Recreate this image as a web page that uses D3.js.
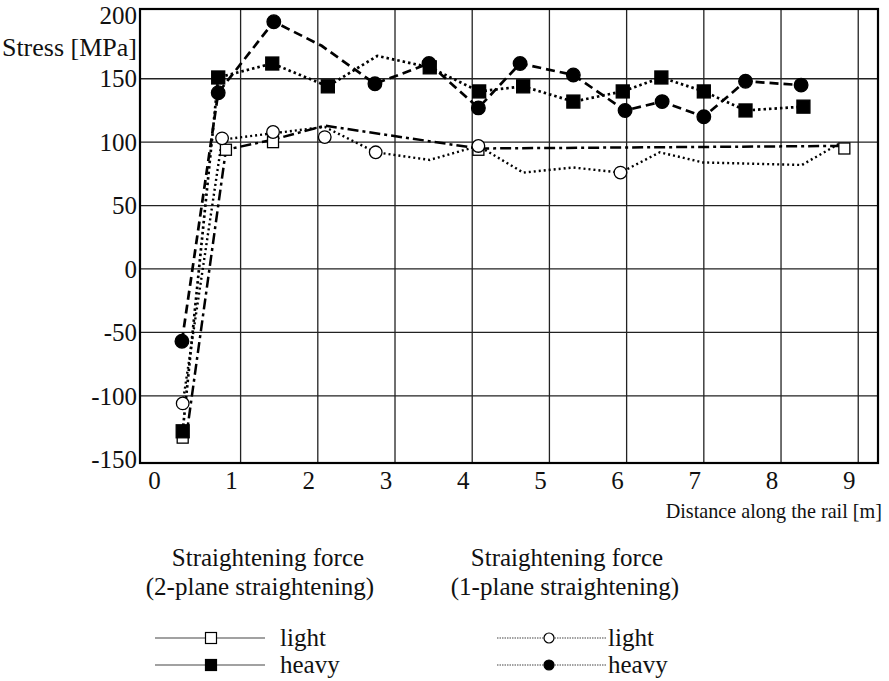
<!DOCTYPE html>
<html><head><meta charset="utf-8">
<script src="https://cdn.jsdelivr.net/npm/d3@7/dist/d3.min.js"></script>
<style>body{margin:0;background:#fff}svg{display:block}</style>
</head><body><svg id="c" width="889" height="681" font-family="'Liberation Serif', 'DejaVu Serif', serif"></svg>
<script>
// ---- data ----
const xTicks = [0,1,2,3,4,5,6,7,8,9];
const yTicks = [-150,-100,-50,0,50,100,150,200];
const yGrid = [-100,-50,0,50,100,150];
const xGrid = [1,2,3,4,5,6,7,8,9];

// 1-plane heavy (filled circles, dashed)
const heavy1LineX = [0.24,0.71,1.43,2.05,2.74,3.44,4.08,4.62,5.31,5.98,6.46,7.00,7.54,8.26];
const heavy1LineY = [-57,139,195,176,146,162,127,162,153,125,132,120,148,145];
const heavy1MarkX = [0.24,0.71,1.43,2.74,3.44,4.08,4.62,5.31,5.98,6.46,7.00,7.54,8.26];
const heavy1MarkY = [-57,139,195,146,162,127,162,153,125,132,120,148,145];

// 2-plane heavy (filled squares, dotted)
const heavy2LineX = [0.25,0.71,1.41,2.13,2.77,3.45,4.09,4.66,5.31,5.95,6.45,7.00,7.54,8.29];
const heavy2LineY = [-128,151,162,144,168,159,140,144,132,140,151,140,125,128];
const heavy2MarkX = [0.25,0.71,1.41,2.13,3.45,4.09,4.66,5.31,5.95,6.45,7.00,7.54,8.29];
const heavy2MarkY = [-128,151,162,144,159,140,144,132,140,151,140,125,128];

// 2-plane light (open squares, dash-dot)
const light2LineX = [0.29,0.81,1.42,2.09,4.08,8.76];
const light2LineY = [-135,94,102,113,95,97];
const light2MarkX = [0.25,0.81,1.42,4.08,8.82];
const light2MarkY = [-133,94,100,94,95];

// 1-plane light (open circles, dotted)
const light1LineX = [0.25,0.76,1.42,2.09,2.75,3.45,4.08,4.66,5.31,5.92,6.43,6.99,8.27,8.76];
const light1LineY = [-106,102,107,112,92,86,97,76,80,76,92,84,82,99];
const light1MarkX = [0.25,0.76,1.42,2.09,2.75,4.08,5.92];
const light1MarkY = [-106,103,108,104,92,97,76];

// ---- chart ----
const FONT = "'Liberation Serif', 'DejaVu Serif', serif";
const svg = d3.select("#c");
const x = d3.scaleLinear().domain([-0.303, 9.256]).range([140, 878]);
const y = d3.scaleLinear().domain([-153, 205]).range([463, 9]);

const g = svg.append("g");
g.selectAll(".gy").data(yGrid).join("line")
  .attr("x1", x(-0.303)).attr("x2", x(9.256))
  .attr("y1", d=>y(d)).attr("y2", d=>y(d))
  .attr("stroke","#222").attr("stroke-width",1.3);
g.selectAll(".gx").data(xGrid).join("line")
  .attr("y1", y(-153)).attr("y2", y(205))
  .attr("x1", d=>x(d)).attr("x2", d=>x(d))
  .attr("stroke","#222").attr("stroke-width",1.3);
g.append("rect").attr("x", x(-0.303)).attr("y", y(205))
  .attr("width", x(9.256)-x(-0.303)).attr("height", y(-153)-y(205))
  .attr("fill","none").attr("stroke","#000").attr("stroke-width",2.2);

function txt(sel){ return sel.attr("font-family", FONT).attr("fill", "#111"); }

txt(svg.selectAll(".ty").data(yTicks).join("text"))
  .attr("x", 137).attr("y", d=>y(d)).attr("dy","0.35em")
  .attr("text-anchor","end").attr("font-size", 25).text(d=>d);
txt(svg.selectAll(".tx").data(xTicks).join("text"))
  .attr("x", d=>x(d)-9).attr("y", 489)
  .attr("text-anchor","middle").attr("font-size", 25).text(d=>d);

txt(svg.append("text")).attr("x",137).attr("y",56).attr("text-anchor","end")
  .attr("font-size", 26).text("Stress [MPa]");
txt(svg.append("text")).attr("x",882).attr("y",518).attr("text-anchor","end")
  .attr("font-size", 20.2).text("Distance along the rail [m]");

const zip = (xs, ys) => xs.map((v,i)=>[v, ys[i]]);
const line = d3.line().x(d=>x(d[0])).y(d=>y(d[1]));

const series = [
  {lx:light2LineX, ly:light2LineY, mx:light2MarkX, my:light2MarkY, dash:"11,4,3,4", w:2.5, shape:"square", fill:"#fff"},
  {lx:light1LineX, ly:light1LineY, mx:light1MarkX, my:light1MarkY, dash:"2,3", w:2.4, shape:"circle", fill:"#fff"},
  {lx:heavy2LineX, ly:heavy2LineY, mx:heavy2MarkX, my:heavy2MarkY, dash:"2.5,3", w:2.7, shape:"square", fill:"#000"},
  {lx:heavy1LineX, ly:heavy1LineY, mx:heavy1MarkX, my:heavy1MarkY, dash:"9,5", w:2.7, shape:"circle", fill:"#000"}
];
series.forEach(s=>{
  g.append("path").attr("d", line(zip(s.lx, s.ly)))
    .attr("fill","none").attr("stroke","#000").attr("stroke-width",s.w)
    .attr("stroke-dasharray", s.dash);
});
series.forEach(s=>{
  const pts = zip(s.mx, s.my);
  if (s.shape==="circle") {
    g.selectAll(null).data(pts).join("circle")
      .attr("cx", d=>x(d[0])).attr("cy", d=>y(d[1]))
      .attr("r", s.fill==="#000"?6.8:6.3)
      .attr("fill", s.fill).attr("stroke","#000").attr("stroke-width",1.3);
  } else {
    const sz = s.fill==="#000"?13:11;
    g.selectAll(null).data(pts).join("rect")
      .attr("x", d=>x(d[0])-sz/2).attr("y", d=>y(d[1])-sz/2)
      .attr("width", sz).attr("height", sz)
      .attr("fill", s.fill).attr("stroke","#000").attr("stroke-width",1.3);
  }
});

// legend
const lg = svg.append("g");
const titles = [
  {cx:268, t:"Straightening force", y:566},
  {cx:260, t:"(2-plane straightening)", y:595},
  {cx:567, t:"Straightening force", y:566},
  {cx:565, t:"(1-plane straightening)", y:595}
];
txt(lg.selectAll(".lt").data(titles).join("text"))
  .attr("x", d=>d.cx).attr("y", d=>d.y).attr("text-anchor","middle")
  .attr("font-size", 25).text(d=>d.t);

const legendRows = [
  {x1:155, x2:265, mx:211, y:638, shape:"square", fill:"#fff", label:"light", tx:280, dash:null},
  {x1:155, x2:265, mx:211, y:665, shape:"square", fill:"#000", label:"heavy", tx:280, dash:null},
  {x1:497, x2:607, mx:549, y:638, shape:"circle", fill:"#fff", label:"light", tx:608, dash:"1.5,1"},
  {x1:497, x2:607, mx:549, y:665, shape:"circle", fill:"#000", label:"heavy", tx:608, dash:"1.5,1"}
];
legendRows.forEach(r=>{
  lg.append("line").attr("x1",r.x1).attr("x2",r.x2).attr("y1",r.y).attr("y2",r.y)
    .attr("stroke","#444").attr("stroke-width",1.1)
    .attr("stroke-dasharray", r.dash);
  if (r.shape==="circle") {
    lg.append("circle").attr("cx",r.mx).attr("cy",r.y).attr("r",5)
      .attr("fill",r.fill).attr("stroke","#000").attr("stroke-width",1.2);
  } else {
    lg.append("rect").attr("x",r.mx-5.5).attr("y",r.y-5.5).attr("width",11).attr("height",11)
      .attr("fill",r.fill).attr("stroke","#000").attr("stroke-width",1.2);
  }
  txt(lg.append("text")).attr("x",r.tx).attr("y",r.y+8).attr("font-size", 25).text(r.label);
});
</script></body></html>
